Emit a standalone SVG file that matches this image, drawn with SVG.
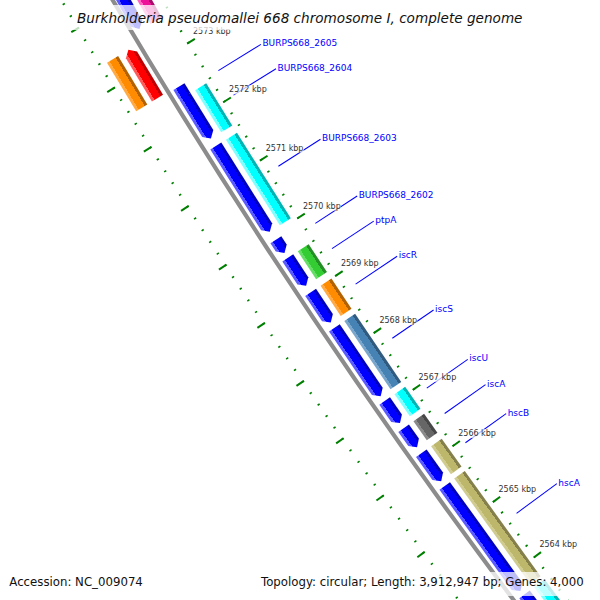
<svg xmlns="http://www.w3.org/2000/svg" width="600" height="600" viewBox="0 0 600 600">
<style>
.lbl{font-family:"DejaVu Sans",sans-serif;font-size:9px;fill:#0000ff}
.tk{font-family:"DejaVu Sans",sans-serif;font-size:8px;fill:#333333}
.ll{stroke:#0000ff;stroke-width:1;fill:none}
.tb{fill:#ffffff;fill-opacity:0.7}
.box{fill:#ffffff;fill-opacity:0.75}
.leg{font-family:"DejaVu Sans",sans-serif;font-size:11.75px;fill:#111111}
.cds{fill:url(#gB)}
</style>
<defs>
<linearGradient id="gB"><stop offset="0" stop-color="#5a5aff"/><stop offset=".23" stop-color="#5a5aff"/><stop offset=".23" stop-color="#0000ff"/><stop offset=".77" stop-color="#0000ff"/><stop offset=".77" stop-color="#0000c0"/><stop offset="1" stop-color="#0000c0"/></linearGradient>
<linearGradient id="gR"><stop offset="0" stop-color="#ff5a5a"/><stop offset=".23" stop-color="#ff5a5a"/><stop offset=".23" stop-color="#ff0000"/><stop offset=".77" stop-color="#ff0000"/><stop offset=".77" stop-color="#c00000"/><stop offset="1" stop-color="#c00000"/></linearGradient>
<linearGradient id="gC"><stop offset="0" stop-color="#80ffff"/><stop offset=".23" stop-color="#80ffff"/><stop offset=".23" stop-color="#00ffff"/><stop offset=".77" stop-color="#00ffff"/><stop offset=".77" stop-color="#00b4b4"/><stop offset="1" stop-color="#00b4b4"/></linearGradient>
<linearGradient id="gG"><stop offset="0" stop-color="#66dd66"/><stop offset=".23" stop-color="#66dd66"/><stop offset=".23" stop-color="#33cc33"/><stop offset=".77" stop-color="#33cc33"/><stop offset=".77" stop-color="#248f24"/><stop offset="1" stop-color="#248f24"/></linearGradient>
<linearGradient id="gO"><stop offset="0" stop-color="#ffaa44"/><stop offset=".23" stop-color="#ffaa44"/><stop offset=".23" stop-color="#ff8c00"/><stop offset=".77" stop-color="#ff8c00"/><stop offset=".77" stop-color="#b36200"/><stop offset="1" stop-color="#b36200"/></linearGradient>
<linearGradient id="gS"><stop offset="0" stop-color="#7aa6cc"/><stop offset=".23" stop-color="#7aa6cc"/><stop offset=".23" stop-color="#4682b4"/><stop offset=".77" stop-color="#4682b4"/><stop offset=".77" stop-color="#315b7e"/><stop offset="1" stop-color="#315b7e"/></linearGradient>
<linearGradient id="gD"><stop offset="0" stop-color="#8a8a8a"/><stop offset=".23" stop-color="#8a8a8a"/><stop offset=".23" stop-color="#666666"/><stop offset=".77" stop-color="#666666"/><stop offset=".77" stop-color="#474747"/><stop offset="1" stop-color="#474747"/></linearGradient>
<linearGradient id="gK"><stop offset="0" stop-color="#d0cb90"/><stop offset=".23" stop-color="#d0cb90"/><stop offset=".23" stop-color="#bdb76b"/><stop offset=".77" stop-color="#bdb76b"/><stop offset=".77" stop-color="#85804b"/><stop offset="1" stop-color="#85804b"/></linearGradient>
<linearGradient id="gP"><stop offset="0" stop-color="#ff66c4"/><stop offset=".23" stop-color="#ff66c4"/><stop offset=".23" stop-color="#ee1199"/><stop offset=".77" stop-color="#ee1199"/><stop offset=".77" stop-color="#a80c6b"/><stop offset="1" stop-color="#a80c6b"/></linearGradient>
</defs>
<rect width="600" height="600" fill="#ffffff"/>
<g id="map" transform="translate(5759.6,-3340.5)">
 <g id="backbone"><circle r="6561" fill="none" stroke="#8c8c8c" stroke-width="4.2"/></g>
 <g id="rulers" transform="rotate(-29.4528)" fill="none" stroke="#008000">
  <path d="M-6518.25,0A6518.25,6518.25 0 0 0 -6447.02,961.03" stroke-width="2.5" stroke-dasharray="1.6 12.1792" stroke-dashoffset="0.8"/>
  <path d="M-6515,0A6515,6515 0 0 0 -6443.8,960.55" stroke-width="9" stroke-dasharray="2 66.862" stroke-dashoffset="1"/>
  <path d="M-6605.25,0A6605.25,6605.25 0 0 0 -6533.07,973.86" stroke-width="2.5" stroke-dasharray="1.6 12.3631" stroke-dashoffset="0.8"/>
  <path d="M-6608.5,0A6608.5,6608.5 0 0 0 -6536.28,974.34" stroke-width="9" stroke-dasharray="2 67.85" stroke-dashoffset="1"/>
 </g>
 <g id="gene-top">
  <path class="cds" transform="rotate(-29)" d="M-6555.5,0H-6542.5V216.3L-6549,222.3L-6555.5,216.3Z"/>
  <rect transform="rotate(-29)" x="-6537" width="13" height="223.4" fill="url(#gP)"/>
 </g>
 <g id="gene-reverse">
  <path transform="rotate(-31.05)" fill="url(#gR)" d="M-6573,0L-6566.5,6V56.4H-6579.5V6Z"/>
  <rect transform="rotate(-31.05)" x="-6598" width="13" height="56.6" fill="url(#gO)"/>
 </g>
 <g id="BURPS668_2605"><path class="cds" transform="rotate(-31.555)" d="M-6555.5,0H-6542.5V10.6L-6549,16.6L-6555.5,10.6Z"/></g>
 <g id="BURPS668_2604">
  <path class="cds" transform="rotate(-31.655)" d="M-6555.5,0H-6542.5V43.5L-6549,49.5L-6555.5,43.5Z"/>
  <rect transform="rotate(-31.655)" x="-6537" width="13" height="49.6" fill="url(#gC)"/>
 </g>
 <g id="BURPS668_2603">
  <path class="cds" transform="rotate(-32.166)" d="M-6555.5,0H-6542.5V95.4L-6549,101.4L-6555.5,95.4Z"/>
  <rect transform="rotate(-32.166)" x="-6537" width="13" height="101.1" fill="url(#gC)"/>
 </g>
 <g id="BURPS668_2602"><path class="cds" transform="rotate(-33.14)" d="M-6555.5,0H-6542.5V9.8L-6549,15.8L-6555.5,9.8Z"/></g>
 <g id="ptpA">
  <path class="cds" transform="rotate(-33.33)" d="M-6555.5,0H-6542.5V27.4L-6549,33.4L-6555.5,27.4Z"/>
  <rect transform="rotate(-33.33)" x="-6537" width="13" height="33.3" fill="url(#gG)"/>
 </g>
 <g id="iscR">
  <path class="cds" transform="rotate(-33.692)" d="M-6555.5,0H-6542.5V30.3L-6549,36.3L-6555.5,30.3Z"/>
  <rect transform="rotate(-33.692)" x="-6537" width="13" height="36.2" fill="url(#gO)"/>
 </g>
 <g id="iscS">
  <path class="cds" transform="rotate(-34.065)" d="M-6555.5,0H-6542.5V76.6L-6549,82.6L-6555.5,76.6Z"/>
  <rect transform="rotate(-34.065)" x="-6537" width="13" height="82.4" fill="url(#gS)"/>
 </g>
 <g id="iscU">
  <path class="cds" transform="rotate(-34.842)" d="M-6555.5,0H-6542.5V20.9L-6549,26.9L-6555.5,20.9Z"/>
  <rect transform="rotate(-34.842)" x="-6537" width="13" height="26.8" fill="url(#gC)"/>
 </g>
 <g id="iscA">
  <path class="cds" transform="rotate(-35.132)" d="M-6555.5,0H-6542.5V17.3L-6549,23.3L-6555.5,17.3Z"/>
  <rect transform="rotate(-35.132)" x="-6537" width="13" height="23.2" fill="url(#gD)"/>
 </g>
 <g id="hscB">
  <path class="cds" transform="rotate(-35.4)" d="M-6555.5,0H-6542.5V28.3L-6549,34.3L-6555.5,28.3Z"/>
  <rect transform="rotate(-35.4)" x="-6537" width="13" height="34.2" fill="url(#gK)"/>
 </g>
 <g id="hscA">
  <path class="cds" transform="rotate(-35.752)" d="M-6555.5,0H-6542.5V123.6L-6549,129.6L-6555.5,123.6Z"/>
  <rect transform="rotate(-35.748)" x="-6537" width="13" height="129.7" fill="url(#gK)"/>
 </g>
 <g id="gene-bottom">
  <path class="cds" transform="rotate(-36.93)" d="M-6555.5,0H-6542.5V173.4L-6549,179.4L-6555.5,173.4Z"/>
  <rect transform="rotate(-36.93)" x="-6537" width="13" height="178.9" fill="url(#gC)"/>
 </g>
 <g id="connectors">
  <line class="ll" transform="rotate(-31.616)" x1="-6507" x2="-6457" y1="0" y2="0"/>
  <line class="ll" transform="rotate(-31.87)" x1="-6507" x2="-6457" y1="0" y2="0"/>
  <line class="ll" transform="rotate(-32.61)" x1="-6507" x2="-6457" y1="0" y2="0"/>
  <line class="ll" transform="rotate(-33.209)" x1="-6507" x2="-6457" y1="0" y2="0"/>
  <line class="ll" transform="rotate(-33.476)" x1="-6507" x2="-6457" y1="0" y2="0"/>
  <line class="ll" transform="rotate(-33.851)" x1="-6507" x2="-6457" y1="0" y2="0"/>
  <line class="ll" transform="rotate(-34.427)" x1="-6507" x2="-6457" y1="0" y2="0"/>
  <line class="ll" transform="rotate(-34.96)" x1="-6507" x2="-6457" y1="0" y2="0"/>
  <line class="ll" transform="rotate(-35.234)" x1="-6507" x2="-6457" y1="0" y2="0"/>
  <line class="ll" transform="rotate(-35.55)" x1="-6507" x2="-6457" y1="0" y2="0"/>
  <line class="ll" transform="rotate(-36.317)" x1="-6507" x2="-6457" y1="0" y2="0"/>
 </g>
 <g id="feature-labels">
  <text class="lbl" transform="rotate(-31.616) translate(-6457,0) rotate(31.616)" x="1.5" y="2">BURPS668_2605</text>
  <text class="lbl" transform="rotate(-31.87) translate(-6457,0) rotate(31.87)" x="1.5" y="2">BURPS668_2604</text>
  <text class="lbl" transform="rotate(-32.61) translate(-6457,0) rotate(32.61)" x="1.5" y="2">BURPS668_2603</text>
  <text class="lbl" transform="rotate(-33.209) translate(-6457,0) rotate(33.209)" x="1.5" y="2">BURPS668_2602</text>
  <text class="lbl" transform="rotate(-33.476) translate(-6457,0) rotate(33.476)" x="1.5" y="2">ptpA</text>
  <text class="lbl" transform="rotate(-33.851) translate(-6457,0) rotate(33.851)" x="1.5" y="2">iscR</text>
  <text class="lbl" transform="rotate(-34.427) translate(-6457,0) rotate(34.427)" x="1.5" y="2">iscS</text>
  <text class="lbl" transform="rotate(-34.96) translate(-6457,0) rotate(34.96)" x="1.5" y="2">iscU</text>
  <text class="lbl" transform="rotate(-35.234) translate(-6457,0) rotate(35.234)" x="1.5" y="2">iscA</text>
  <text class="lbl" transform="rotate(-35.55) translate(-6457,0) rotate(35.55)" x="1.5" y="2">hscB</text>
  <text class="lbl" transform="rotate(-36.317) translate(-6457,0) rotate(36.317)" x="1.5" y="2">hscA</text>
 </g>
 <g id="ruler-labels">
  <g transform="rotate(-31.2696) translate(-6515,0) rotate(31.2696)"><rect class="tb" x="1" y="-14.5" width="39" height="9"/><text class="tk" x="2" y="-7.5">2573 kbp</text></g>
  <g transform="rotate(-31.8752) translate(-6515,0) rotate(31.8752)"><rect class="tb" x="1" y="-14.5" width="39" height="9"/><text class="tk" x="2" y="-7.5">2572 kbp</text></g>
  <g transform="rotate(-32.4808) translate(-6515,0) rotate(32.4808)"><rect class="tb" x="1" y="-14.5" width="39" height="9"/><text class="tk" x="2" y="-7.5">2571 kbp</text></g>
  <g transform="rotate(-33.0864) translate(-6515,0) rotate(33.0864)"><rect class="tb" x="1" y="-14.5" width="39" height="9"/><text class="tk" x="2" y="-7.5">2570 kbp</text></g>
  <g transform="rotate(-33.692) translate(-6515,0) rotate(33.692)"><rect class="tb" x="1" y="-14.5" width="39" height="9"/><text class="tk" x="2" y="-7.5">2569 kbp</text></g>
  <g transform="rotate(-34.2976) translate(-6515,0) rotate(34.2976)"><rect class="tb" x="1" y="-14.5" width="39" height="9"/><text class="tk" x="2" y="-7.5">2568 kbp</text></g>
  <g transform="rotate(-34.9032) translate(-6515,0) rotate(34.9032)"><rect class="tb" x="1" y="-14.5" width="39" height="9"/><text class="tk" x="2" y="-7.5">2567 kbp</text></g>
  <g transform="rotate(-35.5088) translate(-6515,0) rotate(35.5088)"><rect class="tb" x="1" y="-14.5" width="39" height="9"/><text class="tk" x="2" y="-7.5">2566 kbp</text></g>
  <g transform="rotate(-36.1144) translate(-6515,0) rotate(36.1144)"><rect class="tb" x="1" y="-14.5" width="39" height="9"/><text class="tk" x="2" y="-7.5">2565 kbp</text></g>
  <g transform="rotate(-36.72) translate(-6515,0) rotate(36.72)"><rect class="tb" x="1" y="-14.5" width="39" height="9"/><text class="tk" x="2" y="-7.5">2564 kbp</text></g>
 </g>
</g>
<g id="title">
 <rect class="box" x="72" y="5" width="458" height="25"/>
 <text x="77" y="22.7" font-family="DejaVu Sans, sans-serif" font-size="13.6" font-style="italic" fill="#111111">Burkholderia pseudomallei 668 chromosome I, complete genome</text>
</g>
<g id="legend">
 <rect class="box" x="4" y="572" width="145" height="24"/>
 <text class="leg" x="9.3" y="586">Accession: NC_009074</text>
 <rect class="box" x="255" y="572" width="340" height="24"/>
 <text class="leg" x="261" y="586">Topology: circular; Length: 3,912,947 bp; Genes: 4,000</text>
</g>
</svg>
